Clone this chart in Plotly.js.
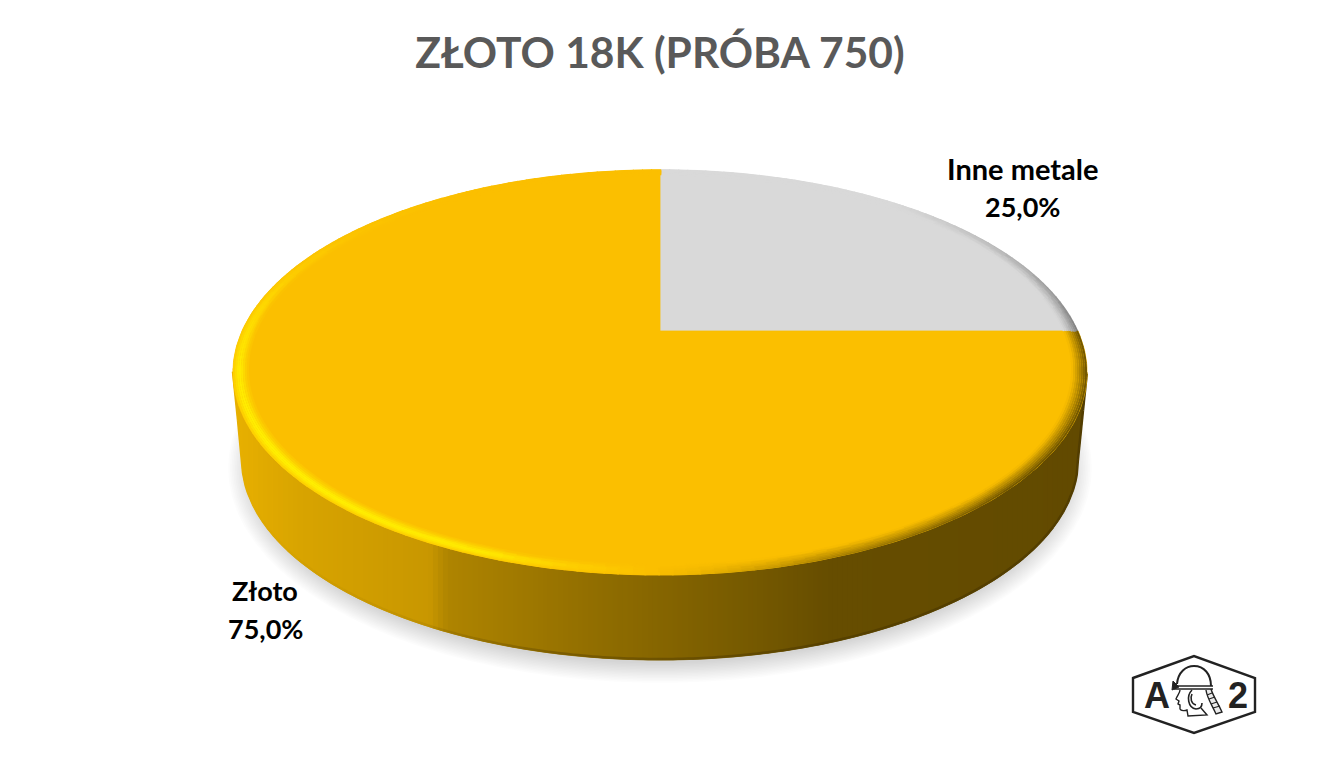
<!DOCTYPE html>
<html><head><meta charset="utf-8">
<script src="https://cdn.plot.ly/plotly-3.0.1.min.js"></script>
<style>html,body{margin:0;padding:0;background:#fff;overflow:hidden}</style>
</head><body><div id="chart" style="width:1321px;height:768px"></div>
<script>
const titleText = "ZŁOTO 18K (PRÓBA 750)";
const categories = ["Inne metale", "Złoto"];
const values = [25, 75];
const sliceColors = ["#D9D9D9", "#FBBF00"];

// projection of the pie disc
const APEX = [660, 331], A = 418, B = 194, K = 0.205;
function proj(r, deg) {
  const t = deg * Math.PI / 180, u = r * Math.sin(t), v = r * Math.cos(t), w = 1 + K * v;
  return [APEX[0] + A * u / w, APEX[1] - B * v / w];
}
function hex(c){return [parseInt(c.slice(1,3),16),parseInt(c.slice(3,5),16),parseInt(c.slice(5,7),16)];}
function mix(a,b,t){const p=hex(a),q=hex(b);return "#"+p.map((v,i)=>Math.round(v+(q[i]-v)*t).toString(16).padStart(2,"0")).join("");}
function ramp(stops,x){
  if(x<=stops[0][0])return stops[0][1];
  for(let i=1;i<stops.length;i++) if(x<=stops[i][0]){
    const f=(x-stops[i-1][0])/(stops[i][0]-stops[i-1][0]);
    return typeof stops[i][1]==="string"?mix(stops[i-1][1],stops[i][1],f):stops[i-1][1]+(stops[i][1]-stops[i-1][1])*f;
  }
  return stops[stops.length-1][1];
}
const traces = [];
function poly(pts,color){
  traces.push({type:"scatter",mode:"lines",x:pts.map(p=>p[0]),y:pts.map(p=>p[1]),fill:"toself",fillcolor:color,
    line:{width:0.8,color},hoverinfo:"skip",showlegend:false});
}
// soft shadow
const CY=372.5, RX=427, RY=203, LCY=460, LRX=418, LRY=200;
for(let i=0;i<14;i++){
  const pts=[];for(let a=0;a<=360;a+=4){const t=a*Math.PI/180;pts.push([660+(LRX+14-i*1.7)*Math.cos(t),LCY+8+(LRY+15-i*1.5)*Math.sin(t)]);}
  traces.push({type:"scatter",mode:"lines",x:pts.map(p=>p[0]),y:pts.map(p=>p[1]),fill:"toself",fillcolor:"rgba(0,0,0,0.0135)",line:{width:0},hoverinfo:"skip",showlegend:false});
}
// wall made of vertical strips
const wallStops=[[233,"#E8B000"],[300,"#D8A400"],[430,"#C89700"],[448,"#AE8400"],[600,"#906D00"],[760,"#745800"],[830,"#664D00"],[1087,"#624A00"]];
const lipStops=[[233,0],[420,0.08],[560,0.3],[1087,0.4]];
function yTop(x){const d=(x-660)/RX;return CY+RY*Math.sqrt(Math.max(0,1-d*d));}
function yBot(x){
  if(x<660-LRX) return CY+(LCY-CY)*(x-(660-RX))/(RX-LRX);
  if(x>660+LRX) return CY+(LCY-CY)*((660+RX)-x)/(RX-LRX);
  const d=(x-660)/LRX;return LCY+LRY*Math.sqrt(Math.max(0,1-d*d));
}
const STEP=5;
for(let x=233;x<1087;x+=STEP){
  const b=Math.min(x+STEP,1087),c=ramp(wallStops,x+STEP/2),pts=[];
  for(let q=x;q<=b+0.01;q+=1.25)pts.push([q,yTop(q)-4]);
  for(let q=b;q>=x-0.01;q-=1.25)pts.push([q,yBot(q)]);
  poly(pts,c);
  const lip=[];for(let q=x;q<=b+0.01;q+=1.25)lip.push([q,yBot(q)-1]);
  traces.push({type:"scatter",mode:"lines",x:lip.map(p=>p[0]),y:lip.map(p=>p[1]),line:{width:2.5,color:mix(c,"#3a2a00",ramp(lipStops,x))},hoverinfo:"skip",showlegend:false});
}
// top faces: one sector per value
const total=values.reduce((a,b)=>a+b,0);
let start=0;const sectors=values.map((v,i)=>{const s={from:start,to:start+v/total*360,color:sliceColors[i]};start=s.to;return s;});
sectors.forEach(s=>{
  const pts=[APEX];for(let a=s.from;a<=s.to+0.01;a+=1)pts.push(proj(1,a));pts.push(APEX);poly(pts,s.color);
});
// bevel around the rim
const buckets=new Map();
function seg(c,p,q,w){const key=c+"|"+w;if(!buckets.has(key))buckets.set(key,{x:[],y:[],c,w});const b=buckets.get(key);b.x.push(p[0],q[0],null);b.y.push(p[1],q[1],null);}
const lightStops=[[90,-1],[135,-1],[160,-0.6],[176,-0.1],[181,0],[188,0.5],[200,0.9],[235,1],[262,0.9],[285,0.6],[305,0.18],[325,0],[360,0]];
const greyStops=[[0,0],[40,0],[70,0.45],[90,0.9]];
const RINGS=8,WIDTH=0.036;
for(let k=0;k<RINGS;k++){
  const t=(k+0.5)/RINGS, r=1-WIDTH*t;
  for(let a=0;a<360;a+=1.5){
    const m=a+0.75;let c;
    if(m<90){c=mix("#D9D9D9","#6E6E6E",ramp(greyStops,m)*Math.pow(1-t,1.4));}
    else{
      const l=ramp(lightStops,m);
      if(l>=0){
        const prof=Math.exp(-Math.pow((t-0.42)/0.38,2));
        c=mix("#FBBF00",mix("#FFD800","#FFF000",Math.max(0,(l-0.5)*2)),Math.min(1,l*1.05)*prof);
      }else{
        c=mix("#FBBF00","#6A5000",-l*Math.pow(1-t,1.15));
      }
    }
    seg(c,proj(r,a),proj(r,a+1.7),2);
  }
}
buckets.forEach(b=>traces.push({type:"scatter",mode:"lines",x:b.x,y:b.y,line:{width:b.w,color:b.c,simplify:false},hoverinfo:"skip",showlegend:false,connectgaps:false}));

// data labels
function pct(v){return (v/total*100).toFixed(1).replace(".",",")+"%";}
const labelPos=[[1022,168,206],[265,590,628]];
const nameSizes=[29,27];
const annotations=[];
categories.forEach((cat,i)=>{
  [[cat,labelPos[i][1],nameSizes[i]],[pct(values[i]),labelPos[i][2],27]].forEach(([text,y,size])=>annotations.push({
    text:"<b>"+text+"</b>",x:labelPos[i][0],y,xref:"x",yref:"y",showarrow:false,xanchor:"center",yanchor:"middle",
    font:{family:"Lato, Carlito, sans-serif",size,color:"#000"}}));
});
// logo letters
[["A",1156.5,695],["2",1237.5,695]].forEach(([text,x,y])=>annotations.push({text:"<b>"+text+"</b>",x,y,xref:"x",yref:"y",showarrow:false,xanchor:"center",yanchor:"middle",
  font:{family:"Liberation Sans, Arial, sans-serif",size:36,color:"#222"}}));

const ink="#222";
const s=(path,w=1.5,fill="rgba(0,0,0,0)")=>({type:"path",path,xref:"x",yref:"y",line:{color:ink,width:w},fillcolor:fill,layer:"above"});
const shapes=[
  s("M1133,678 L1194,656 L1255,678 L1255,712 L1194,733 L1133,712 Z",2.4),
  s("M1177,684 C1178,672 1186,666 1194,666 C1204,666 1211,674 1211,686",2),
  s("M1173,686 L1213,686",1.6),
  s("M1174,689 L1213,689",1.6),
  s("M1173,681 L1172,690 L1179,687 Z",1,ink),
  s("M1192.5,674 h3 v2.5 h2.5 v3 h-2.5 v2.5 h-3 v-2.5 h-2.5 v-3 h2.5 Z",1),
  s("M1180,690 C1180,693 1177,696 1176,699 L1179,701 L1178,704 L1180,705 L1180,709 C1181,711 1185,711 1187,710 L1188,716 L1207,715 L1201,708",1.4),
  s("M1192,690 C1186,696 1188,708 1196,709 C1201,709 1202,706 1202,703 M1192,694 C1190,698 1191,704 1196,705",1.6),
  s("M1206,690 C1207,698 1212,705 1216,714 L1222,712 C1218,703 1213,696 1211,689",1.4,"rgba(0,0,0,0.08)"),
  s("M1207,695 L1212,693 M1209,699 L1215,697 M1211,704 L1217,702 M1213,708 L1220,706",1.2)
];
const layout={
  width:1321,height:768,autosize:false,margin:{l:0,r:0,t:0,b:0},paper_bgcolor:"#fff",plot_bgcolor:"#fff",showlegend:false,
  title:{text:"<b>"+titleText+"</b>",x:660/1321,xanchor:"center",y:1-53/768,yanchor:"middle",font:{family:"Lato, Carlito, sans-serif",size:42.5,color:"#595959"}},
  xaxis:{range:[0,1321],visible:false,fixedrange:true},
  yaxis:{range:[768,0],visible:false,fixedrange:true},
  annotations,shapes
};
Plotly.newPlot("chart",traces,layout,{displayModeBar:false,staticPlot:true});
</script></body></html>
